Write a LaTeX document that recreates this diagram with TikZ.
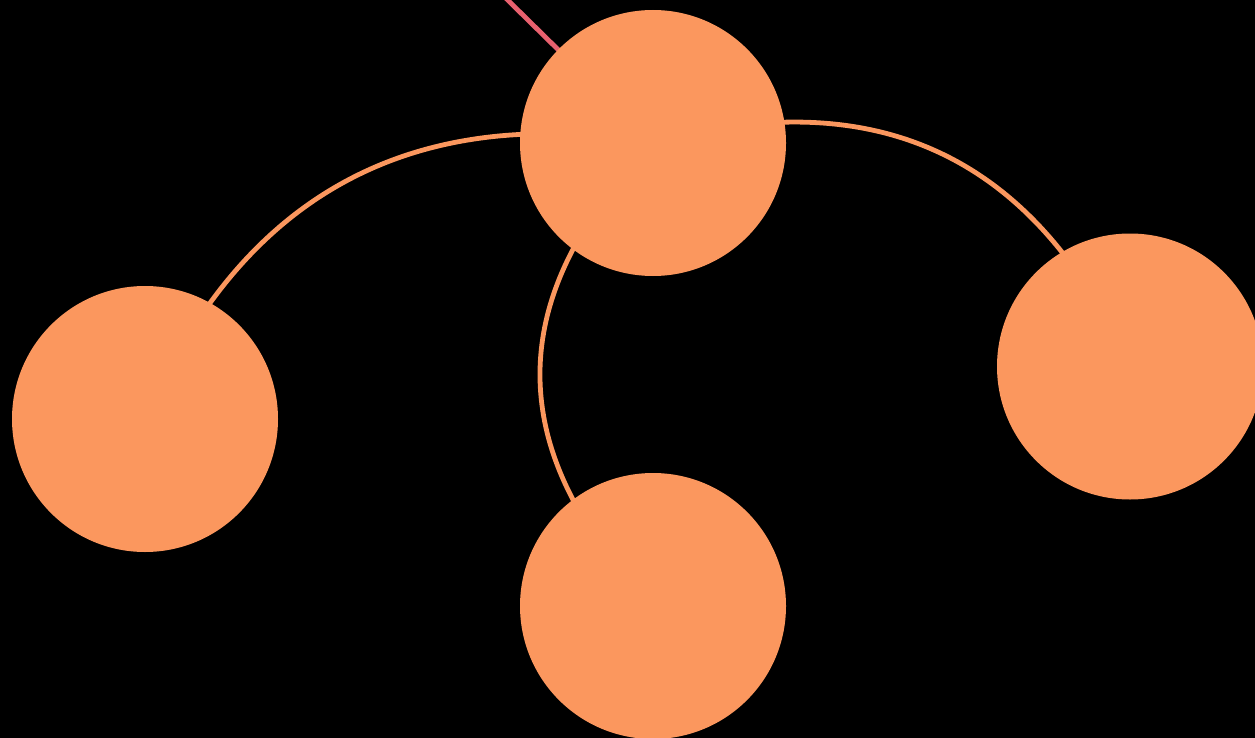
\documentclass[tikz,border=0pt]{standalone}
\usetikzlibrary{calc}
\definecolor{nodeorange}{RGB}{251,151,94}
\definecolor{edgepink}{RGB}{232,96,110}
\pgfdeclarelayer{background}
\pgfsetlayers{background,main}
\tikzset{
  ball/.style={circle, fill=nodeorange, draw=none, minimum size=266pt, inner sep=0pt},
  link/.style={draw=nodeorange, line width=4.8pt},
  extlink/.style={draw=edgepink, line width=4.8pt}
}
\begin{document}
\begin{tikzpicture}[x=1pt,y=-1pt]
  \useasboundingbox (0,0) rectangle (1255,738);
  \node[ball] (top) at (653,143) {};
  \node[ball] (left) at (145,419) {};
  \node[ball] (right) at (1130,366.5) {};
  \node[ball] (bottom) at (653,606) {};
  \coordinate (ext) at (467,-40);
  \begin{pgfonlayer}{background}
    \fill[black] (0,0) rectangle (1255,738);
    \draw[link] (top.center) .. controls (411.7,102.5) and (242.4,194.5) .. (left.center);
    \draw[link] (top.center) .. controls (876.1,81.3) and (1035.1,156) .. (right.center);
    \draw[link] (top.center) .. controls (502.3,297.3) and (502.3,451.7) .. (bottom.center);
    \draw[extlink] (ext) -- (top.center);
  \end{pgfonlayer}
\end{tikzpicture}
\end{document}
